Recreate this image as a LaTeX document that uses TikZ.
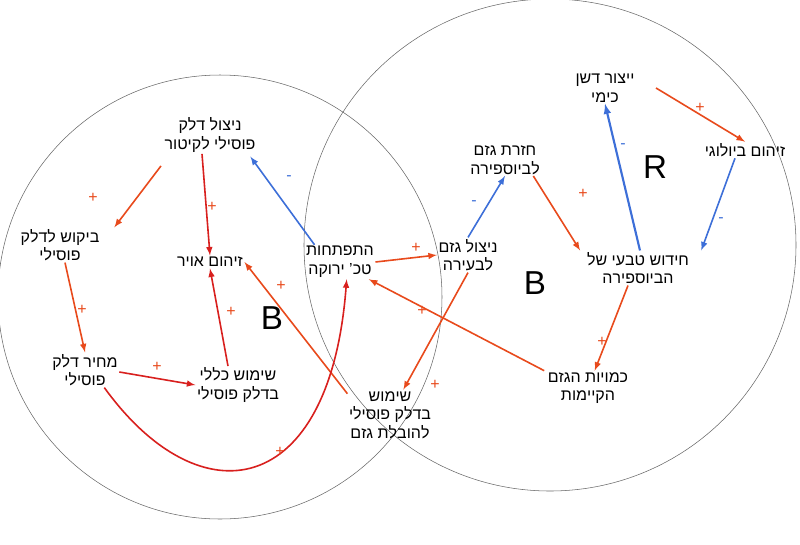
\documentclass[tikz,border=0pt]{standalone}
\usepackage{fontspec}
\setmainfont{Liberation Sans}
\TeXXeTstate=1
\newcommand{\rl}[1]{\beginR #1\endR}
\definecolor{poscol}{HTML}{E84A1C}
\definecolor{redcol}{HTML}{D8201E}
\definecolor{negcol}{HTML}{3D6FD8}
\begin{document}
\begin{tikzpicture}
	[x=0.75pt,y=-0.75pt,
	 var/.style={align=center,font=\large,inner sep=1pt},
	 plus/.style={line width=1.2pt,-latex,poscol},
	 plusred/.style={line width=1.2pt,-latex,redcol},
	 minus/.style={line width=1.2pt,-latex,negcol},
	 sgn/.style={font=\large},
	 loopname/.style={font=\Huge}]
    \useasboundingbox (0,0) rectangle (800,544);
    \draw[gray!80!black] (220,297) circle (222);
    \draw[gray!80!black] (550,245) circle (246);

    \node[var] (A) at (210,135) {\rl{ניצול דלק}\\\rl{פוסילי לקיטור}};
    \node[var] (B) at (60,245) {\rl{ביקוש לדלק}\\\rl{פוסילי}};
    \node[var] (C) at (210,262) {\rl{זיהום אויר}};
    \node[var] (D) at (85,370) {\rl{מחיר דלק}\\\rl{פוסילי}};
    \node[var] (E) at (238,385) {\rl{שימוש כללי}\\\rl{בדלק פוסילי}};
    \node[var] (F) at (340,262) {\rl{התפתחות}\\\rl{טכ' ירוקה}};
    \node[var] (G) at (468,255) {\rl{ניצול גזם}\\\rl{לבעירה}};
    \node[var] (H) at (390,415) {\rl{שימוש}\\\rl{בדלק פוסילי}\\\rl{להובלת גזם}};
    \node[var] (I) at (505,160) {\rl{חזרת גזם}\\\rl{לביוספירה}};
    \node[var] (J) at (605,88) {\rl{ייצור דשן}\\\rl{כימי}};
    \node[var] (K) at (745,150) {\rl{זיהום ביולוגי}};
    \node[var] (L) at (638,268) {\rl{חידוש טבעי של}\\\rl{הביוספירה}};
    \node[var] (M) at (588,388) {\rl{כמויות הגזם}\\\rl{הקיימות}};

    \node[loopname] at (272,318) {B};
    \node[loopname] at (535,283) {B};
    \node[loopname] at (655,167) {R};

    \draw[plus] (A.south west) ++(-2,12) -- ([xshift=10pt]B.north east);
    \draw[plusred] (A.south) ++(-8,0) -- (C.north);
    \draw[plus] (B.south) ++(5,0) -- (D.north);
    \draw[plusred] (D.east) ++(0,2) -- (E.west);
    \draw[plusred] (E.north) ++(-10,0) -- (C.south);
    \draw[plus] (H.north west) ++(0,4) -- (C.east);
    \draw[minus] (F.north west) ++(10,0) -- ([xshift=-5pt,yshift=-2pt]A.south east);
    \draw[plus] (F.east) -- (G.west);
    \draw[plus] (G.south) -- ([xshift=10pt]H.north);
    \draw[plus] (M.north west) ++(-2,0) -- ([xshift=-5pt]F.south east);
    \draw[minus] (G.north) -- (I.south);
    \draw[plus] (I.south east) ++(-8,0) -- ([xshift=-4pt]L.north west);
    \draw[minus,line width=1.6pt] (L.north) ++(2,0) -- (J.south);
    \draw[plus] (J.east) ++(20,0) -- (K.north);
    \draw[minus] (K.south) ++(-10,0) -- ([xshift=8pt]L.north east);
    \draw[plus] (L.south) ++(-10,0) -- ([xshift=5pt]M.north);
    \draw[plusred] (D.south east) ++(-15,0) .. controls (200,520) and (330,500) .. ([xshift=5pt]F.south);

    \node[sgn,poscol] at (93,198) {+};
    \node[sgn,poscol] at (212,207) {+};
    \node[sgn,poscol] at (82,310) {+};
    \node[sgn,poscol] at (157,367) {+};
    \node[sgn,poscol] at (231,312) {+};
    \node[sgn,poscol] at (281,286) {+};
    \node[sgn,negcol] at (289,178) {-};
    \node[sgn,poscol] at (416,248) {+};
    \node[sgn,poscol] at (435,385) {+};
    \node[sgn,poscol] at (422,311) {+};
    \node[sgn,poscol] at (280,452) {+};
    \node[sgn,negcol] at (474,203) {-};
    \node[sgn,poscol] at (583,194) {+};
    \node[sgn,negcol] at (623,146) {-};
    \node[sgn,poscol] at (700,108) {+};
    \node[sgn,negcol] at (721,220) {-};
    \node[sgn,poscol] at (602,342) {+};
\end{tikzpicture}
\end{document}
